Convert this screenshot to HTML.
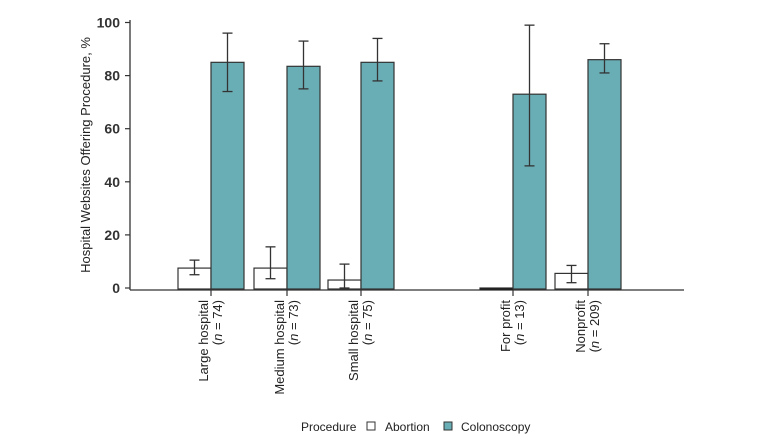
<!DOCTYPE html>
<html><head><meta charset="utf-8"><style>
body{margin:0;background:#fff;}
svg{display:block;font-family:"Liberation Sans",sans-serif;}
</style></head><body>
<svg id="chart" width="768" height="445"></svg>
<script>
const groups=["Large hospital","Medium hospital","Small hospital","For profit","Nonprofit"];
const groupN=["74","73","75","13","209"];
const abortion=[7.5,7.5,3,0,5.5];
const abortionHi=[10.5,15.5,9,0,8.5];
const abortionLo=[5,3.5,0,0,2];
const colonoscopy=[85,83.5,85,73,86];
const colonHi=[96,93,94,99,92];
const colonLo=[74,75,78,46,81];
const yTicks=[0,20,40,60,80,100];
const groupCenters=[211,287,361,513,588];
const NS="http://www.w3.org/2000/svg";
const svg=document.getElementById("chart");
const y=v=>288-v*2.655;
const bw=33;
function el(t,a,p){const e=document.createElementNS(NS,t);for(const k in a)e.setAttribute(k,a[k]);(p||svg).appendChild(e);return e;}
// axes
let ax=el("line",{x1:130,y1:290,x2:684,y2:290,stroke:"#333","stroke-width":1.3});


let ay=el("line",{x1:130,y1:20,x2:130,y2:290,stroke:"#333","stroke-width":1.3});


yTicks.forEach(v=>{
 let t=el("line",{x1:125,y1:y(v),x2:130,y2:y(v),stroke:"#333","stroke-width":1.2});
 
 
 let l=el("text",{x:120,y:y(v)+5,"text-anchor":"end","font-size":14,"font-weight":"bold",fill:"#333"});
 l.textContent=v;
 
 
});
let yt=el("text",{transform:"translate(90,155) rotate(-90)","text-anchor":"middle","font-size":13,fill:"#222"});
yt.textContent="Hospital Websites Offering Procedure, %";


function errbar(cx,hi,lo,name){
 const g=el("g",{stroke:"#333","stroke-width":1.3});
 
 
 el("line",{x1:cx,y1:y(hi),x2:cx,y2:y(lo)},g);
 el("line",{x1:cx-5,y1:y(hi),x2:cx+5,y2:y(hi)},g);
 el("line",{x1:cx-5,y1:y(lo),x2:cx+5,y2:y(lo)},g);
}
groups.forEach((gname,i)=>{
 const c=groupCenters[i];
 let a=el("rect",{x:c-bw,y:y(abortion[i]),width:bw,height:Math.max(288-y(abortion[i]),0.01)+1,fill:"#fff",stroke:"#333","stroke-width":1.2});
 
 
 if(abortion[i]===0){let z=el("line",{x1:c-bw,y1:289,x2:c,y2:289,stroke:"#222","stroke-width":2});}
 let b=el("rect",{x:c,y:y(colonoscopy[i]),width:bw,height:289-y(colonoscopy[i]),fill:"#6aaeb5",stroke:"#333","stroke-width":1.2});
 
 
 if(abortionHi[i]>0) errbar(c-bw/2,abortionHi[i],abortionLo[i],'error-bar-abortion');
 errbar(c+bw/2,colonHi[i],colonLo[i],'error-bar-colonoscopy');
 let t=el("line",{x1:c,y1:290,x2:c,y2:296,stroke:"#333","stroke-width":1.2});
 
 
 let l1=el("text",{transform:`translate(${c-3},300) rotate(-90)`,"text-anchor":"end","font-size":13,fill:"#222"});
 l1.textContent=gname;
 
 
 let l2=el("text",{transform:`translate(${c+11},300) rotate(-90)`,"text-anchor":"end","font-size":13,fill:"#222"});
 l2.innerHTML=`(<tspan font-style="italic">n</tspan> = ${groupN[i]})`;
 
 
});
// legend
const lg=el("g",{});


let lt=el("text",{x:301,y:431,"font-size":12,fill:"#222"},lg);lt.textContent="Procedure";
el("rect",{x:367,y:422,width:8,height:8,fill:"#fff",stroke:"#333"},lg);
let la=el("text",{x:385,y:431,"font-size":12,fill:"#222"},lg);la.textContent="Abortion";


el("rect",{x:444,y:422,width:8,height:8,fill:"#6aaeb5",stroke:"#333"},lg);
let lc=el("text",{x:461,y:431,"font-size":12,fill:"#222"},lg);lc.textContent="Colonoscopy";


</script>
</body></html>
